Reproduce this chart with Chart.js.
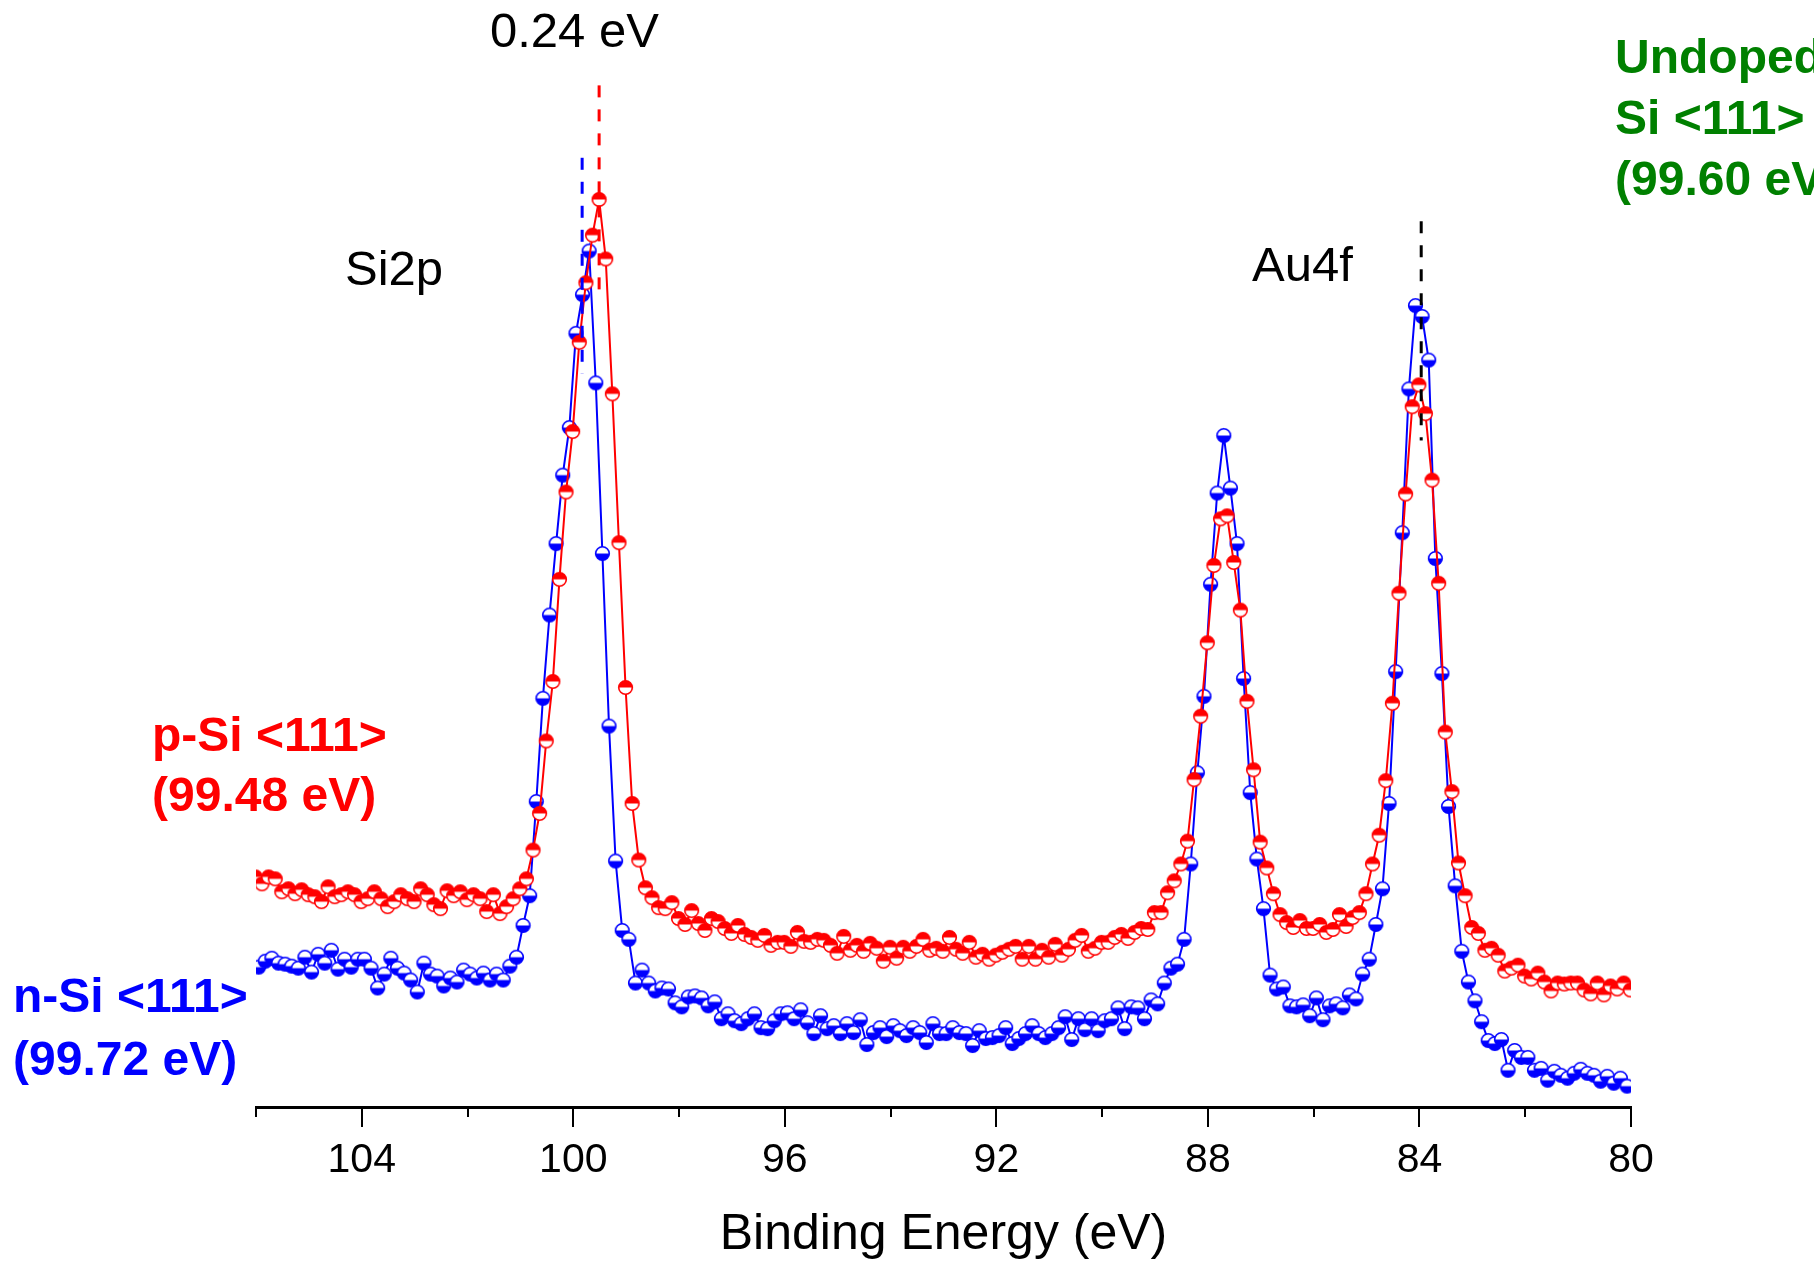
<!DOCTYPE html>
<html>
<head>
<meta charset="utf-8">
<title>XPS Si2p / Au4f</title>
<script src="https://cdn.jsdelivr.net/npm/chart.js"></script>
<style>
    html, body { margin: 0; padding: 0; background: #ffffff; }
    #chart { display: block; }
</style>
</head>
<body>
<canvas id="chart" width="1814" height="1265"></canvas>
<script>
// energy grid of both scans (eV), after Au4f7/2 calibration
const stepEV = 0.125;
const nSiStart = 105.95;
const pSiStart = 106.012;

// intensities (a.u.)
const nSiCounts = [
    141, 147, 150, 145, 144, 142, 140, 151, 136, 154, 145, 158, 139, 149, 141, 149, 149, 140, 120, 134,
    150, 140, 135, 128, 116, 145, 134, 132, 122, 130, 126, 138, 134, 130, 135, 128, 134, 128, 142, 151,
    183, 213, 308, 412, 496, 568, 637, 685, 780, 819, 863, 730, 558, 384, 248,
    178, 169, 125, 138, 125, 117, 120, 119, 105, 101, 111,
    112, 110, 102, 106, 89, 94, 87, 84, 89, 94, 80, 79, 87, 94, 95, 89, 98, 85, 74, 92,
    79, 82, 74, 84, 75, 88, 63, 75, 80, 71, 82, 77, 72, 80, 75, 65, 84, 74, 74, 80,
    75, 74, 62, 77, 69, 70, 72, 80, 64, 69, 74, 82, 74, 70, 74, 80, 91, 68, 89, 78,
    89, 77, 87, 89, 100, 79, 101, 100, 89, 108, 104, 125, 140, 144, 169, 245,
    337, 414, 527, 619, 677, 624, 568, 432,
    317, 250, 200, 133, 119, 121, 102, 101, 103, 92, 110, 88, 102, 104, 100, 113, 109, 134, 149, 184, 220, 306,
    439, 579, 724, 808, 797, 753, 553, 437, 303, 223, 157, 126, 107, 86, 67, 64, 68, 37, 57, 50,
    50, 37, 39, 27, 36, 32, 29, 34, 38, 34, 32, 26, 31, 24, 29, 21
];

const pSiCounts = [
    232, 225, 232, 230, 217, 220, 215, 219, 214, 212, 207, 222, 212, 214, 217, 214, 207, 210, 217, 210,
    202, 207, 214, 210, 207, 220, 214, 204, 200, 218, 213, 217, 209, 214, 210, 197, 214, 195, 202, 210,
    220, 230, 259,
    296, 369, 429, 532, 620, 681, 771, 831, 879, 915, 855, 719, 569, 423, 306, 249, 221, 211, 201,
    200, 206, 190, 184,
    198, 185, 178, 190, 187, 180, 175, 183, 174, 171, 168, 173, 163, 166, 166, 162, 176, 167, 166, 169,
    168, 163, 155, 172, 158, 163, 157, 165, 160, 147, 161, 150, 161, 157, 162, 169, 158, 160, 157, 171,
    159, 155, 166, 151, 154, 149, 153, 156, 159, 162, 149, 162, 149, 158, 151, 164, 153, 159, 168, 173,
    157, 160, 166, 166, 171, 174, 170, 176, 180, 179, 196, 196, 216, 228, 245,
    268, 330, 394, 468, 546, 593, 596, 549, 501, 409, 340,
    267, 241, 215, 194, 186, 181, 188, 180, 180, 184, 176, 179, 194, 182, 191, 196, 215, 245, 274, 329, 407,
    518, 618, 706, 728, 699, 632, 528, 378, 318, 246, 213, 181, 175, 158, 160, 153, 137, 140, 143, 132,
    129, 135, 126, 117, 125, 124, 125, 125, 118, 114, 125, 113, 122, 119, 125, 118
];

const majorTicks = [104, 100, 96, 92, 88, 84, 80];
const minorTicks = [106, 102, 98, 94, 90, 86, 82];

// peak markers: [energy, from, to]
const nSiPeakLine = [99.833, 739, 957];
const pSiPeakLine = [99.512, 817, 1030];
const au4fLine = [83.967, 672, 893];

function toPoints(start, counts) {
    return counts.map((v, i) => ({ x: start - i * stepEV, y: v }));
}

function halfMarker(color, topFilled) {
    const c = document.createElement('canvas');
    c.width = 17;
    c.height = 17;
    const g = c.getContext('2d');
    const r = 6.8;
    g.beginPath();
    g.arc(8.5, 8.5, r, 0, Math.PI * 2);
    g.fillStyle = '#ffffff';
    g.fill();
    g.beginPath();
    if (topFilled) g.arc(8.5, 8.5, r, Math.PI, Math.PI * 2);
    else g.arc(8.5, 8.5, r, 0, Math.PI);
    g.closePath();
    g.fillStyle = color;
    g.fill();
    g.beginPath();
    g.arc(8.5, 8.5, r, 0, Math.PI * 2);
    g.lineWidth = 1.6;
    g.strokeStyle = color;
    g.stroke();
    return c;
}

const labelsPlugin = {
    id: 'labels',
    afterDraw(chart) {
        const { ctx, scales: { x, y }, chartArea } = chart;
        ctx.save();

        // minor ticks
        ctx.strokeStyle = '#000';
        ctx.lineWidth = 2;
        minorTicks.forEach(v => {
            const px = Math.round(x.getPixelForValue(v));
            ctx.beginPath();
            ctx.moveTo(px, chartArea.bottom);
            ctx.lineTo(px, chartArea.bottom + 10);
            ctx.stroke();
        });

        // dashed peak positions
        ctx.lineWidth = 3;
        ctx.setLineDash([12, 12]);
        [[nSiPeakLine, '#0000ff'], [pSiPeakLine, '#ff0000'], [au4fLine, '#000000']].forEach(([l, col]) => {
            const px = x.getPixelForValue(l[0]);
            ctx.strokeStyle = col;
            ctx.beginPath();
            ctx.moveTo(px, y.getPixelForValue(l[2]));
            ctx.lineTo(px, y.getPixelForValue(l[1]));
            ctx.stroke();
        });
        ctx.setLineDash([]);

        ctx.textBaseline = 'alphabetic';
        ctx.textAlign = 'left';
        ctx.fillStyle = '#000';
        ctx.font = '49px "Liberation Sans", Arial, sans-serif';
        ctx.fillText('0.24 eV', 490, 47);
        ctx.fillText('Si2p', 345, 285);
        ctx.fillText('Au4f', 1252, 281);

        ctx.font = 'bold 48px "Liberation Sans", Arial, sans-serif';
        ctx.fillStyle = '#ff0000';
        ctx.fillText('p-Si <111>', 152, 751);
        ctx.fillText('(99.48 eV)', 152, 811);

        ctx.fillStyle = '#0000ff';
        ctx.fillText('n-Si <111>', 13, 1012);
        ctx.fillText('(99.72 eV)', 13, 1075);

        ctx.fillStyle = '#008000';
        ctx.fillText('Undoped', 1615, 73);
        ctx.fillText('Si <111>', 1615, 134);
        ctx.fillText('(99.60 eV)', 1615, 195);
        ctx.restore();
    }
};

function drawChart() {
    const ctx = document.getElementById('chart').getContext('2d');
    new Chart(ctx, {
        type: 'scatter',
        data: {
            datasets: [
                {
                    label: 'p-Si <111>',
                    data: toPoints(pSiStart, pSiCounts),
                    showLine: true,
                    borderColor: '#ff0000',
                    borderWidth: 2,
                    pointStyle: halfMarker('#ff0000', true),
                    pointRadius: 7
                },
                {
                    label: 'n-Si <111>',
                    data: toPoints(nSiStart, nSiCounts),
                    showLine: true,
                    borderColor: '#0000ff',
                    borderWidth: 2,
                    pointStyle: halfMarker('#0000ff', false),
                    pointRadius: 7
                }
            ]
        },
        options: {
            responsive: false,
            animation: false,
            devicePixelRatio: 1,
            layout: { padding: { left: 256, right: 183, top: 0, bottom: 0 } },
            plugins: { legend: { display: false }, tooltip: { enabled: false } },
            scales: {
                x: {
                    type: 'linear',
                    reverse: true,
                    min: 80,
                    max: 106,
                    afterFit: (scale) => { scale.height = 158; },
                    afterBuildTicks: (scale) => { scale.ticks = majorTicks.map(v => ({ value: v })); },
                    grid: { drawOnChartArea: false, drawTicks: true, tickLength: 20, color: '#000', lineWidth: 2 },
                    border: { display: true, color: '#000', width: 3 },
                    ticks: {
                        color: '#000',
                        padding: 9,
                        maxRotation: 0,
                        autoSkip: false,
                        font: { family: '"Liberation Sans", Arial, sans-serif', size: 41 }
                    },
                    title: {
                        display: true,
                        text: 'Binding Energy (eV)',
                        color: '#000',
                        padding: 0,
                        font: { family: '"Liberation Sans", Arial, sans-serif', size: 50 }
                    }
                },
                y: { display: false, min: 0, max: 1107 }
            }
        },
        plugins: [labelsPlugin]
    });
}

drawChart();
</script>
</body>
</html>
